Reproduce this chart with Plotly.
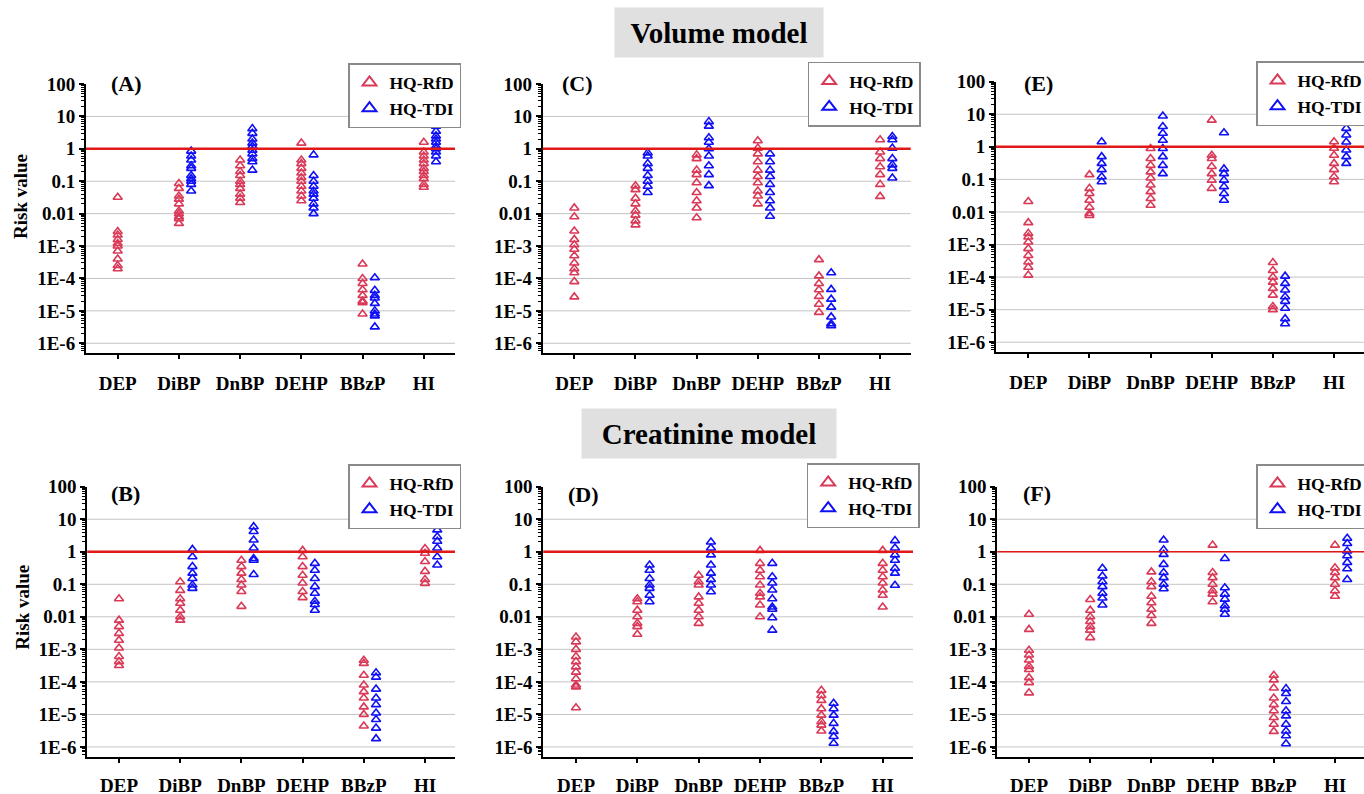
import plotly.graph_objects as go
from plotly.subplots import make_subplots

CATEGORIES = ["DEP", "DiBP", "DnBP", "DEHP", "BBzP", "HI"]
Y_TICK_VALS = [1e-6, 1e-5, 1e-4, 1e-3, 0.01, 0.1, 1, 10, 100]
Y_TICK_TEXT = ["1E-6", "1E-5", "1E-4", "1E-3", "0.01", "0.1", "1", "10", "100"]
GRID_VALS = [1e-6, 1e-5, 1e-4, 1e-3, 0.01, 0.1, 1, 10]
THRESHOLD = 1
PANEL_LABELS = ["(A)", "(C)", "(E)", "(B)", "(D)", "(F)"]
SERIES_NAMES = ["HQ-RfD", "HQ-TDI"]
SECTION_TITLES = ["Volume model", "Creatinine model"]

# ---- Volume model ----
A_RFD = [
    [0.032, 0.0028, 0.0022, 0.0016, 0.0012, 0.001, 0.0007, 0.0004, 0.00025, 0.0002],
    [0.085, 0.06, 0.035, 0.028, 0.02, 0.012, 0.01, 0.008, 0.007, 0.005],
    [0.45, 0.3, 0.2, 0.15, 0.1, 0.08, 0.06, 0.04, 0.03, 0.022],
    [1.5, 0.45, 0.35, 0.25, 0.18, 0.13, 0.1, 0.07, 0.05, 0.035, 0.025],
    [2.8e-4, 1e-4, 7e-5, 4.5e-5, 3e-5, 2e-5, 1.8e-5, 8e-6],
    [1.6, 0.8, 0.6, 0.45, 0.35, 0.25, 0.2, 0.15, 0.12, 0.08, 0.065],
]
A_TDI = [
    [],
    [0.85, 0.6, 0.45, 0.3, 0.25, 0.15, 0.12, 0.1, 0.08, 0.05],
    [4.2, 3, 2, 1.5, 1.2, 0.9, 0.7, 0.5, 0.4, 0.22],
    [0.65, 0.15, 0.1, 0.07, 0.05, 0.04, 0.03, 0.02, 0.015, 0.01],
    [1.05e-4, 4.3e-5, 3e-5, 2.5e-5, 1.7e-5, 1e-5, 8e-6, 7e-6, 3.2e-6],
    [5, 3.5, 2.5, 2, 1.6, 1.2, 1, 0.8, 0.6, 0.4],
]
C_RFD = [
    [0.015, 0.008, 0.0029, 0.0016, 0.0011, 8e-4, 5e-4, 3e-4, 2e-4, 1.5e-4, 8e-5, 2.7e-5],
    [0.072, 0.055, 0.03, 0.02, 0.012, 0.009, 0.006, 0.0045],
    [0.65, 0.5, 0.22, 0.16, 0.09, 0.045, 0.025, 0.015, 0.0075],
    [1.77, 1.05, 0.7, 0.4, 0.22, 0.14, 0.09, 0.05, 0.035, 0.02],
    [3.8e-4, 1.2e-4, 7e-5, 4.5e-5, 2.8e-5, 1.6e-5, 9e-6],
    [1.9, 0.8, 0.5, 0.28, 0.16, 0.08, 0.034],
]
C_TDI = [
    [],
    [0.75, 0.6, 0.35, 0.25, 0.15, 0.1, 0.07, 0.045],
    [6.9, 5, 2.2, 1.6, 1, 0.6, 0.3, 0.16, 0.073],
    [0.7, 0.4, 0.22, 0.14, 0.08, 0.045, 0.025, 0.015, 0.0083],
    [1.5e-4, 4.6e-5, 2.3e-5, 1.3e-5, 6.5e-6, 4e-6, 3.5e-6],
    [7.8, 6, 2.4, 1.9, 1.05, 0.5, 0.32, 0.25, 0.126],
]
E_RFD = [
    [0.021, 0.0047, 0.0022, 0.0017, 0.0012, 7.5e-4, 4.6e-4, 2.9e-4, 2e-4, 1.15e-4],
    [0.14, 0.053, 0.037, 0.023, 0.014, 0.009, 0.0078],
    [0.89, 0.44, 0.27, 0.17, 0.11, 0.067, 0.042, 0.026, 0.016],
    [6.6, 0.55, 0.44, 0.25, 0.15, 0.095, 0.053],
    [2.8e-4, 1.6e-4, 1e-4, 7e-5, 4.5e-5, 2.8e-5, 1.25e-5, 1e-5],
    [7.4, 1.43, 0.9, 0.55, 0.31, 0.2, 0.12, 0.085],
]
E_TDI = [
    [],
    [1.43, 0.5, 0.31, 0.2, 0.12, 0.085],
    [8.8, 4.2, 2.6, 1.6, 0.89, 0.5, 0.27, 0.15],
    [2.7, 0.21, 0.15, 0.095, 0.06, 0.037, 0.023],
    [1.07e-4, 6.4e-5, 4e-5, 2.5e-5, 1.8e-5, 1.1e-5, 5.3e-6, 3.7e-6],
    [8.8, 3.7, 2.3, 1.4, 0.8, 0.5, 0.31],
]

# ---- Creatinine model ----
B_RFD = [
    [0.036, 0.0079, 0.005, 0.0031, 0.0019, 0.0011, 6e-4, 4.2e-4, 3.2e-4],
    [0.12, 0.065, 0.036, 0.026, 0.016, 0.01, 0.0079],
    [0.55, 0.35, 0.22, 0.14, 0.095, 0.06, 0.021],
    [1.1, 0.7, 0.35, 0.19, 0.11, 0.06, 0.039],
    [4.6e-4, 3.7e-4, 1.6e-4, 8e-5, 5e-5, 3.2e-5, 1.7e-5, 1e-5, 4.4e-6],
    [1.26, 0.9, 0.5, 0.25, 0.14, 0.107],
]
B_TDI = [
    [],
    [1.18, 0.7, 0.35, 0.22, 0.15, 0.095, 0.075],
    [5.9, 4.2, 2.3, 1.3, 0.62, 0.55, 0.2],
    [0.44, 0.27, 0.15, 0.085, 0.053, 0.03, 0.024, 0.016],
    [1.9e-4, 1.4e-4, 6e-5, 3.2e-5, 2e-5, 1.1e-5, 7e-6, 3.8e-6, 1.8e-6],
    [6.6, 4.7, 2.9, 2.1, 1.3, 0.7, 0.39],
]
D_RFD = [
    [0.0024, 0.0017, 0.001, 6e-4, 4.2e-4, 2.9e-4, 2e-4, 1.25e-4, 8e-5, 7e-5, 1.6e-5],
    [0.036, 0.029, 0.016, 0.01, 0.0063, 0.005, 0.0029],
    [0.19, 0.12, 0.095, 0.041, 0.026, 0.016, 0.01, 0.0063],
    [1.1, 0.44, 0.27, 0.17, 0.095, 0.053, 0.041, 0.023, 0.01],
    [5.5e-5, 3.8e-5, 2.7e-5, 1.5e-5, 9.5e-6, 6e-6, 4.7e-6, 3.1e-6],
    [1.1, 0.44, 0.27, 0.17, 0.11, 0.067, 0.046, 0.02],
]
D_TDI = [
    [],
    [0.39, 0.27, 0.15, 0.095, 0.075, 0.046, 0.029],
    [2.0, 1.3, 0.8, 0.39, 0.22, 0.14, 0.095, 0.059],
    [0.44, 0.17, 0.11, 0.067, 0.036, 0.02, 0.017, 0.0094, 0.0039],
    [2.2e-5, 1.5e-5, 9.5e-6, 5.3e-6, 3e-6, 2.1e-6, 1.3e-6],
    [2.2, 1.3, 0.8, 0.55, 0.31, 0.22, 0.093],
]
F_RFD = [
    [0.012, 0.0041, 9.4e-4, 6.7e-4, 4.7e-4, 3e-4, 2.4e-4, 1.35e-4, 9.5e-5, 4.6e-5],
    [0.034, 0.016, 0.01, 0.0072, 0.005, 0.0039, 0.0023],
    [0.24, 0.12, 0.085, 0.043, 0.027, 0.017, 0.011, 0.0063],
    [1.6, 0.23, 0.16, 0.1, 0.063, 0.05, 0.029],
    [1.6e-4, 1.15e-4, 6.5e-5, 3.2e-5, 2e-5, 1.3e-5, 8e-6, 5e-6, 3e-6],
    [1.6, 0.32, 0.23, 0.16, 0.1, 0.063, 0.043],
]
F_TDI = [
    [],
    [0.31, 0.18, 0.12, 0.085, 0.053, 0.038, 0.023],
    [2.3, 1.15, 0.83, 0.41, 0.23, 0.16, 0.1, 0.073],
    [0.62, 0.078, 0.05, 0.035, 0.022, 0.017, 0.012],
    [6.2e-5, 4.4e-5, 2.5e-5, 1.3e-5, 9e-6, 5e-6, 3.1e-6, 2.2e-6, 1.25e-6],
    [2.6, 1.8, 1.05, 0.75, 0.47, 0.3, 0.14],
]

PANELS = [
    (A_RFD, A_TDI), (C_RFD, C_TDI), (E_RFD, E_TDI),
    (B_RFD, B_TDI), (D_RFD, D_TDI), (F_RFD, F_TDI),
]

# ---- styling / layout (pixels of a 1364x794 canvas) ----
W, H = 1364, 794
RED = "#d93a58"
BLUE = "#1010f5"
LINE_RED = "#e01818"
FONT = "Liberation Serif"
TDI_OFFSET = 0.2
# plot-area boxes: (left, right, top, bottom) in px
BOXES = [
    (86, 455, 84, 353), (542.7, 910.7, 84, 353), (996, 1364, 81.7, 352),
    (87.3, 455, 486.7, 756.7), (543.3, 913, 486.7, 756.7), (997.3, 1364, 486.7, 756.7),
]
X_RANGES = [
    [-0.518, 5.51], [-0.517, 5.50], [-0.528, 5.49],
    [-0.518, 5.49], [-0.533, 5.494], [-0.518, 5.474],
]
LEGEND_POS = [(348, 63), (807.7, 61.7), (1256, 61), (348, 464), (806.7, 463), (1256, 464)]
LABEL_POS = [(126, 84), (577, 84), (1038, 83), (125, 493), (583, 494), (1037, 493)]
THRESH_WIDTH = [2.5, 2.5, 2.5, 2.5, 2.5, 1.5]
X_LABEL_STANDOFF = [8, 8, 8, 6, 6, 6]

fig = make_subplots(rows=2, cols=3)

for k, (rfd, tdi) in enumerate(PANELS):
    row, col = k // 3 + 1, k % 3 + 1
    leg = "legend" if k == 0 else f"legend{k + 1}"
    xs_r = [i for i, vals in enumerate(rfd) for _ in vals]
    ys_r = [v for vals in rfd for v in vals]
    xs_t = [i + TDI_OFFSET for i, vals in enumerate(tdi) for _ in vals]
    ys_t = [v for vals in tdi for v in vals]
    fig.add_trace(go.Scatter(
        x=xs_r, y=ys_r, mode="markers", name=SERIES_NAMES[0], legend=leg,
        marker=dict(symbol="triangle-up-open", size=8, color=RED, line=dict(width=1.6, color=RED)),
    ), row=row, col=col)
    fig.add_trace(go.Scatter(
        x=xs_t, y=ys_t, mode="markers", name=SERIES_NAMES[1], legend=leg,
        marker=dict(symbol="triangle-up-open", size=8, color=BLUE, line=dict(width=1.6, color=BLUE)),
    ), row=row, col=col)

    l, r, t, b = BOXES[k]
    fig.update_xaxes(
        domain=[l / W, r / W], range=X_RANGES[k],
        tickmode="array", tickvals=list(range(len(CATEGORIES))), ticktext=CATEGORIES,
        showline=True, linecolor="black", linewidth=2, showgrid=False, zeroline=False,
        ticks="outside", ticklen=4, tickwidth=1.5, tickcolor="black",
        ticklabelstandoff=X_LABEL_STANDOFF[k],
        tickfont=dict(family=FONT, size=19, color="black", weight="bold"),
        row=row, col=col,
    )
    fig.update_yaxes(
        domain=[1 - b / H, 1 - t / H], type="log", range=[-6.3, 2],
        tickmode="array", tickvals=Y_TICK_VALS, ticktext=Y_TICK_TEXT,
        showline=True, linecolor="black", linewidth=2, showgrid=False, zeroline=False,
        ticks="outside", ticklen=5, tickwidth=1.5, tickcolor="black",
        minor=dict(ticks="outside", ticklen=3, tickwidth=1, tickcolor="black", dtick="D1", showgrid=False),
        tickfont=dict(family=FONT, size=19, color="black", weight="bold"),
        row=row, col=col,
    )
    for g in GRID_VALS:
        fig.add_hline(y=g, line=dict(color="#c4c4c4", width=1), layer="below", row=row, col=col)
    fig.add_hline(y=THRESHOLD, line=dict(color=LINE_RED, width=THRESH_WIDTH[k]), layer="above", row=row, col=col)

    lx, ly = LEGEND_POS[k]
    fig.update_layout({leg: dict(
        x=lx / W, y=1 - ly / H, xanchor="left", yanchor="top",
        bgcolor="white", bordercolor="#8a8a8a", borderwidth=1.5,
        font=dict(family=FONT, size=17.5, color="black", weight="bold"),
        tracegroupgap=0, itemsizing="constant",
    )})

    px, py = LABEL_POS[k]
    fig.add_annotation(
        x=px / W, y=1 - py / H, xref="paper", yref="paper", text=PANEL_LABELS[k],
        showarrow=False, xanchor="center", yanchor="middle",
        font=dict(family=FONT, size=22, color="black", weight="bold"),
    )

# y-axis titles
for (tx, ty) in [(20, 197), (21.7, 607)]:
    fig.add_annotation(
        x=tx / W, y=1 - ty / H, xref="paper", yref="paper", text="Risk value",
        textangle=-90, showarrow=False, xanchor="center", yanchor="middle",
        font=dict(family=FONT, size=19, color="black", weight="bold"),
    )

# section title boxes
for title, (cx, cy, bw, bh) in zip(SECTION_TITLES, [(719, 32.5, 208, 49), (709, 433.7, 254, 49)]):
    fig.add_annotation(
        x=cx / W, y=1 - cy / H, xref="paper", yref="paper", text=title,
        showarrow=False, xanchor="center", yanchor="middle",
        width=bw, height=bh, bgcolor="#e0e0e0", borderpad=0,
        font=dict(family=FONT, size=29, color="black", weight="bold"),
    )

fig.update_layout(
    width=W, height=H, autosize=False,
    margin=dict(l=0, r=0, t=0, b=0, autoexpand=False),
    paper_bgcolor="white", plot_bgcolor="white",
    showlegend=True,
)

fig.write_html("out.html", config={"displayModeBar": False},
               post_script="document.body.style.margin='0';")
